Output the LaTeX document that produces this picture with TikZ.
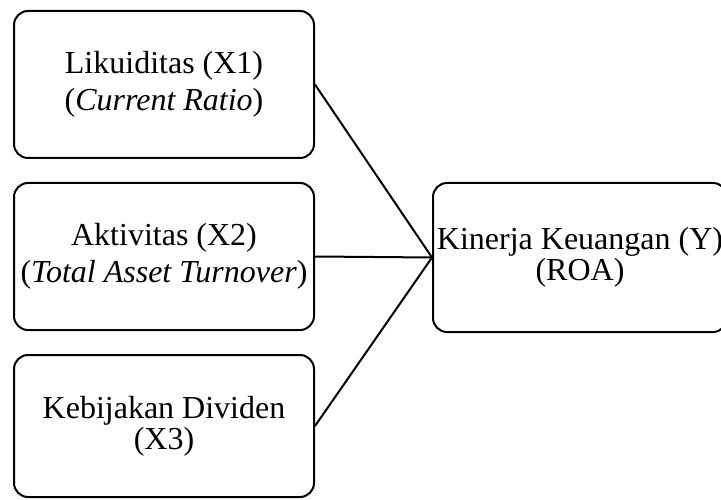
\documentclass[tikz,border=0pt]{standalone}
\usepackage{fontspec}
\setmainfont{Liberation Serif}
\usepackage{tikz}
\tikzstyle{block} = [draw, rounded corners=14pt, rectangle, line width=2pt, align=center, inner sep=0pt,
    minimum width=300pt, minimum height=147pt, font=\fontsize{32}{37}\selectfont]
\tikzstyle{tight} = [font=\fontsize{32}{31}\selectfont]

\begin{document}
\begin{tikzpicture}[x=1pt,y=-1pt]
\useasboundingbox (0,0) rectangle (721,500);
\clip (0,0) rectangle (721,500);
%% Variabel independen %%
\node [block] (likuiditas) at (164,84.5) {Likuiditas (X1)\\(\textit{Current Ratio})};
\node [block] (aktivitas) at (164,256.5) {Aktivitas (X2)\\(\textit{Total Asset Turnover})};
\node [block, tight, minimum height=142pt] (dividen) at (164,426) {Kebijakan Dividen\\(X3)};

%% Variabel dependen %%
\node [block, tight, minimum width=294pt, minimum height=149pt] (kinerja) at (580,257.5) {Kinerja Keuangan (Y)\\(ROA)};

%% Hubungan %%
\draw[line width=2pt] (likuiditas.east) -- (kinerja.west);
\draw[line width=2pt] (aktivitas.east) -- (kinerja.west);
\draw[line width=2pt] (dividen.east) -- (kinerja.west);
\end{tikzpicture}
\end{document}
